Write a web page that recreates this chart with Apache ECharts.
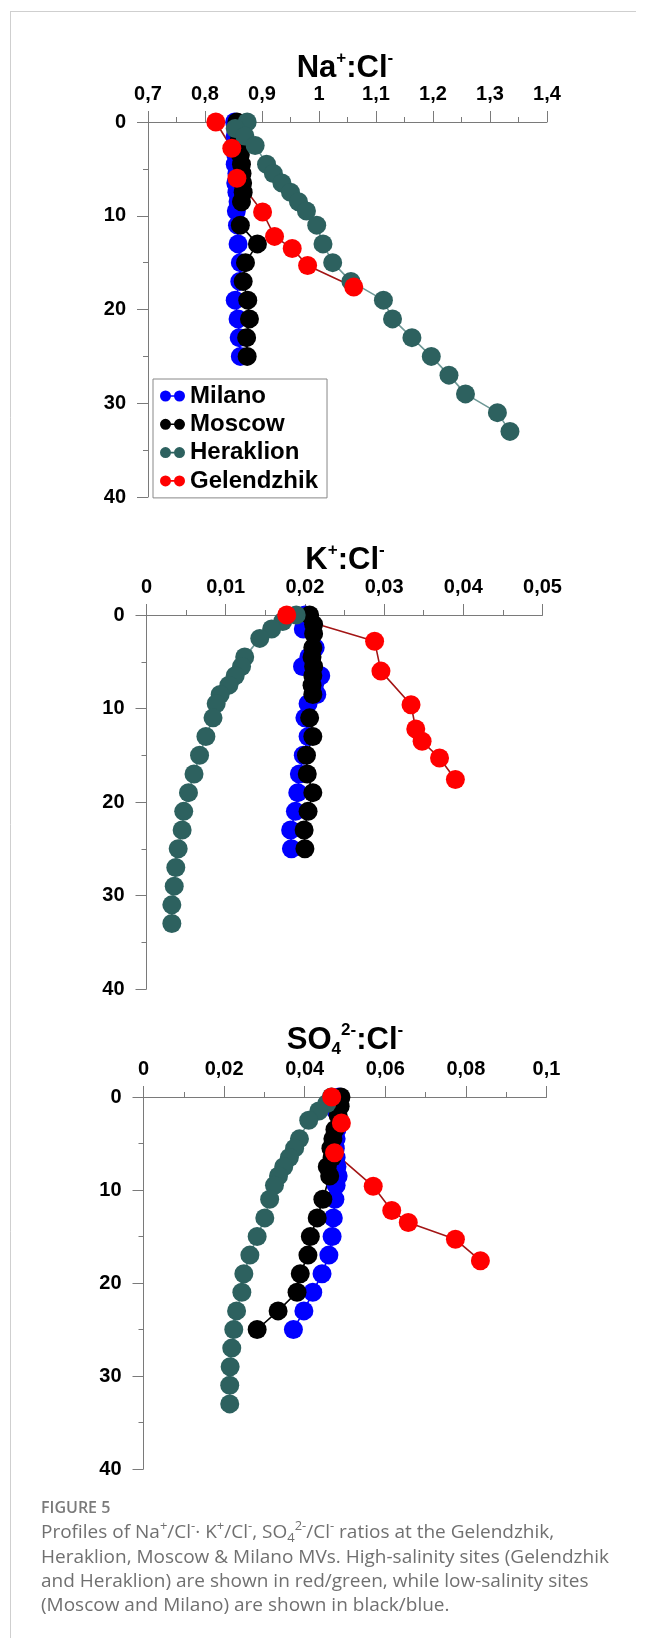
<!DOCTYPE html>
<html>
<head>
<meta charset="utf-8">
<script src="https://cdn.jsdelivr.net/npm/echarts@6/dist/echarts.min.js"></script>
<style>
  html, body { margin: 0; padding: 0; background: #fff; }
  #chart { width: 648px; height: 1638px; }
</style>
</head>
<body>
<div id="chart"></div>
<script>
// depths (m) for each site
var depthMilano = [0, 1.5, 3.5, 4.5, 5.5, 6.5, 7.5, 8.5, 9.5, 11, 13, 15, 17, 19, 21, 23, 25]
var depthMoscow = [0, 1, 2, 3.5, 4.5, 5.5, 6.5, 7.5, 8.5, 11, 13, 15, 17, 19, 21, 23, 25]
var depthHeraklion = [0, 0.7, 1.5, 2.5, 4.5, 5.5, 6.5, 7.5, 8.5, 9.5, 11, 13, 15, 17, 19, 21, 23, 25, 27, 29, 31, 33]
var depthGelendzhik = [0, 2.8, 6.0, 9.6, 12.2, 13.5, 15.3, 17.6]

// Na+:Cl-
var naMilano = [0.852, 0.853, 0.854, 0.853, 0.856, 0.854, 0.856, 0.858, 0.855, 0.857, 0.858, 0.862, 0.861, 0.853, 0.858, 0.860, 0.862]
var naMoscow = [0.856, 0.858, 0.860, 0.862, 0.864, 0.865, 0.866, 0.867, 0.864, 0.862, 0.892, 0.871, 0.867, 0.875, 0.878, 0.873, 0.874]
var naHeraklion = [0.874, 0.853, 0.870, 0.888, 0.908, 0.920, 0.935, 0.950, 0.964, 0.978, 0.996, 1.007, 1.024, 1.056, 1.113, 1.129, 1.163, 1.197, 1.228, 1.257, 1.313, 1.335]
var naGelendzhik = [0.819, 0.847, 0.856, 0.901, 0.922, 0.953, 0.980, 1.061]

// K+:Cl-
var kMilano = [0.0200, 0.0198, 0.0213, 0.0205, 0.0197, 0.0220, 0.0212, 0.0215, 0.0204, 0.0200, 0.0204, 0.0198, 0.0193, 0.0191, 0.0188, 0.0182, 0.0183]
var kMoscow = [0.0206, 0.0211, 0.0211, 0.0210, 0.0209, 0.0211, 0.0210, 0.0209, 0.0210, 0.0206, 0.0210, 0.0202, 0.0203, 0.0210, 0.0204, 0.0199, 0.0200]
var kHeraklion = [0.0189, 0.0172, 0.0158, 0.0143, 0.0124, 0.0120, 0.0112, 0.0104, 0.0093, 0.0088, 0.0084, 0.0075, 0.0067, 0.0060, 0.0053, 0.0047, 0.0045, 0.0040, 0.0037, 0.0035, 0.0032, 0.0032]
var kGelendzhik = [0.0177, 0.0288, 0.0296, 0.0334, 0.0340, 0.0348, 0.0370, 0.0390]

// SO4 2-:Cl-
var so4Milano = [0.0485, 0.0478, 0.0480, 0.0478, 0.0476, 0.0478, 0.0480, 0.0483, 0.0478, 0.0475, 0.0471, 0.0468, 0.0460, 0.0443, 0.0420, 0.0398, 0.0372]
var so4Moscow = [0.0490, 0.0488, 0.0483, 0.0475, 0.0470, 0.0465, 0.0468, 0.0456, 0.0462, 0.0445, 0.0431, 0.0414, 0.0408, 0.0389, 0.0381, 0.0334, 0.0282]
var so4Heraklion = [0.0466, 0.0455, 0.0435, 0.0410, 0.0387, 0.0375, 0.0362, 0.0348, 0.0335, 0.0325, 0.0313, 0.0301, 0.0282, 0.0264, 0.0249, 0.0244, 0.0231, 0.0224, 0.0219, 0.0215, 0.0214, 0.0214]
var so4Gelendzhik = [0.0467, 0.0491, 0.0474, 0.0570, 0.0616, 0.0657, 0.0774, 0.0836]

var sites = ['Milano', 'Moscow', 'Heraklion', 'Gelendzhik']
var depths = [depthMilano, depthMoscow, depthHeraklion, depthGelendzhik]
var panels = [
    [naMilano, naMoscow, naHeraklion, naGelendzhik],
    [kMilano, kMoscow, kHeraklion, kGelendzhik],
    [so4Milano, so4Moscow, so4Heraklion, so4Gelendzhik]
]
var xRanges = [[0.7, 1.4, 0.1], [0, 0.05, 0.01], [0, 0.1, 0.02]]

var dotColors = ['#0000ff', '#000000', '#2d615f', '#ff0000']
var lineColors = ['#0000ff', '#000000', '#6e9896', '#a31515']

var font = 'Arial, "Liberation Sans", sans-serif'
var axisGrey = '#7a7a7a'

var grids = [
    {left: 148, top: 122, width: 399, height: 375},
    {left: 146.5, top: 615, width: 396, height: 374},
    {left: 143.5, top: 1097, width: 403, height: 372}
]

var commaFmt = function (v) { return String(+v.toFixed(4)).replace('.', ',') }

var xAxes = [], yAxes = [], series = []
xRanges.forEach(function (r, p) {
    xAxes.push({
        type: 'value', gridIndex: p, position: 'top',
        min: r[0], max: r[1], interval: r[2],
        axisLine: {show: true, onZero: false, lineStyle: {color: axisGrey, width: 1}},
        axisTick: {show: true, length: 11, lineStyle: {color: axisGrey}},
        minorTick: {show: true, splitNumber: 2, length: 5, lineStyle: {color: axisGrey}},
        splitLine: {show: false},
        axisLabel: {margin: 18, fontSize: 20, fontWeight: 'bold', color: '#000', fontFamily: font, formatter: commaFmt}
    })
    yAxes.push({
        type: 'value', gridIndex: p, inverse: true,
        min: 0, max: 40, interval: 10,
        axisLine: {show: true, onZero: false, lineStyle: {color: axisGrey, width: 1}},
        axisTick: {show: true, length: 11, lineStyle: {color: axisGrey}},
        minorTick: {show: true, splitNumber: 2, length: 5, lineStyle: {color: axisGrey}},
        splitLine: {show: false},
        axisLabel: {margin: 22, fontSize: 20, fontWeight: 'bold', color: '#000', fontFamily: font}
    })
    panels[p].forEach(function (vals, s) {
        series.push({
            name: sites[s], type: 'line', xAxisIndex: p, yAxisIndex: p,
            data: vals.map(function (v, i) { return [v, depths[s][i]] }),
            symbol: 'circle', symbolSize: 19, showSymbol: true, showAllSymbol: true,
            itemStyle: {color: dotColors[s], opacity: 1},
            lineStyle: {color: lineColors[s], width: 1.6},
            emphasis: {disabled: true}
        })
    })
})

var titleRich = {
    b: {fontSize: 31, fontWeight: 'bold', fontFamily: font, color: '#000', lineHeight: 36},
    p: {fontSize: 17, fontWeight: 'bold', fontFamily: font, color: '#000', lineHeight: 18, verticalAlign: 'top'},
    d: {fontSize: 17, fontWeight: 'bold', fontFamily: font, color: '#000', lineHeight: 12, verticalAlign: 'bottom'}
}
var titleTexts = ['{b|Na}{p|+}{b|:Cl}{p|-}', '{b|K}{p|+}{b|:Cl}{p|-}', '{b|SO}{d|4}{p|2-}{b|:Cl}{p|-}']
var titleTops = [45, 537, 1017]

var capFont = '"Open Sans", sans-serif'
var capColor = '#707070'
var capRich = {
    p: {fontSize: 13, fontFamily: capFont, color: capColor, lineHeight: 12, verticalAlign: 'top'},
    d: {fontSize: 13, fontFamily: capFont, color: capColor, lineHeight: 8, verticalAlign: 'bottom'}
}
var captionLines = [
    'Profiles of Na{p|+}/Cl{p|-}· K{p|+}/Cl{p|-}, SO{d|4}{p|2-}/Cl{p|-} ratios at the Gelendzhik,',
    'Heraklion, Moscow & Milano MVs. High-salinity sites (Gelendzhik',
    'and Heraklion) are shown in red/green, while low-salinity sites',
    '(Moscow and Milano) are shown in black/blue.'
]
var captionTops = [1520, 1545, 1569, 1593]

var graphics = [
    {type: 'line', shape: {x1: 10, y1: 11.5, x2: 636, y2: 11.5}, style: {stroke: '#cfcfcf', lineWidth: 1}},
    {type: 'line', shape: {x1: 10.5, y1: 11, x2: 10.5, y2: 1638}, style: {stroke: '#cfcfcf', lineWidth: 1}},
    {type: 'text', left: 41, top: 1500, style: {text: 'FIGURE 5', font: '600 16px "Open Sans"', fill: '#7a7a7a'}}
]
captionLines.forEach(function (t, i) {
    graphics.push({type: 'text', left: 41, top: captionTops[i],
        style: {text: t, fontSize: 19, fontFamily: capFont, fill: capColor, lineHeight: 25, rich: capRich}})
})

var chart = echarts.init(document.getElementById('chart'))
chart.setOption({
    animation: false,
    backgroundColor: '#fff',
    title: titleTexts.map(function (t, i) {
        return {text: t, left: 340, top: titleTops[i], textAlign: 'center', textStyle: {rich: titleRich, lineHeight: 36}}
    }),
    legend: {
        data: sites, orient: 'vertical', left: 153, top: 379,
        padding: [5, 9, 5, 7], itemGap: 4.3,
        borderColor: '#888', borderWidth: 1, selectedMode: false,
        icon: 'path://M0,5.5A5.5,5.5,0,1,1,11,5.5A5.5,5.5,0,1,1,0,5.5ZM14,5.5A5.5,5.5,0,1,1,25,5.5A5.5,5.5,0,1,1,14,5.5ZM10,4.7H15V6.3H10Z',
        itemWidth: 25, itemHeight: 11,
        textStyle: {fontSize: 24, fontWeight: 'bold', color: '#000', fontFamily: font, lineHeight: 24}
    },
    grid: grids,
    xAxis: xAxes,
    yAxis: yAxes,
    series: series,
    graphic: graphics
})
</script>
</body>
</html>
